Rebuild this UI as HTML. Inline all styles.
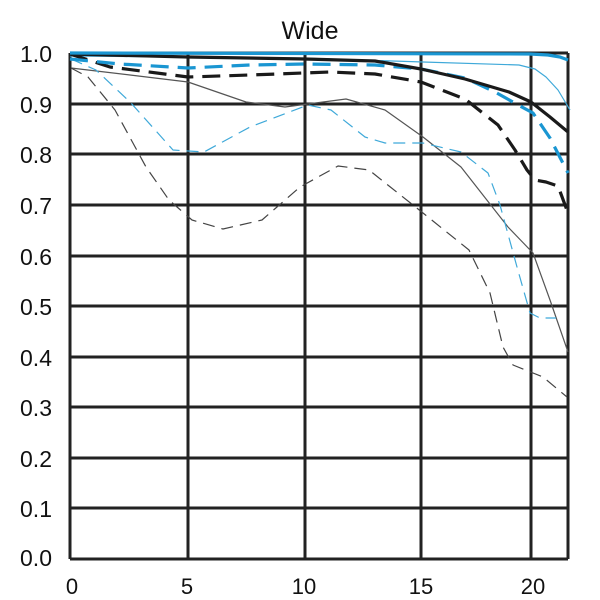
<!DOCTYPE html>
<html><head><meta charset="utf-8"><style>
html,body{margin:0;padding:0;background:#fff;}
svg{display:block;font-family:"Liberation Sans","DejaVu Sans",sans-serif;}
</style></head><body>
<svg width="600" height="600" viewBox="0 0 600 600">
<rect width="600" height="600" fill="#fff"/>
<text x="310" y="39" font-size="25" text-anchor="middle" fill="#111">Wide</text>
<g stroke="#222" stroke-width="3" fill="none">
<line x1="70" y1="53" x2="568" y2="53"/>
<line x1="70" y1="104" x2="568" y2="104"/>
<line x1="70" y1="154" x2="568" y2="154"/>
<line x1="70" y1="205" x2="568" y2="205"/>
<line x1="70" y1="256" x2="568" y2="256"/>
<line x1="70" y1="306" x2="568" y2="306"/>
<line x1="70" y1="357" x2="568" y2="357"/>
<line x1="70" y1="407" x2="568" y2="407"/>
<line x1="70" y1="458" x2="568" y2="458"/>
<line x1="70" y1="508" x2="568" y2="508"/>
<line x1="70" y1="559" x2="568" y2="559"/>
<line x1="70" y1="53" x2="70" y2="559"/>
<line x1="188" y1="53" x2="188" y2="559"/>
<line x1="305" y1="53" x2="305" y2="559"/>
<line x1="421" y1="53" x2="421" y2="559"/>
<line x1="531" y1="53" x2="531" y2="559"/>
<line x1="568" y1="53" x2="568" y2="559"/>
</g>
<g font-size="23" fill="#111" text-anchor="end">
<text x="52" y="62">1.0</text>
<text x="52" y="113">0.9</text>
<text x="52" y="163">0.8</text>
<text x="52" y="214">0.7</text>
<text x="52" y="265">0.6</text>
<text x="52" y="315">0.5</text>
<text x="52" y="366">0.4</text>
<text x="52" y="416">0.3</text>
<text x="52" y="467">0.2</text>
<text x="52" y="517">0.1</text>
<text x="52" y="566">0.0</text>
</g>
<g font-size="22" fill="#111" text-anchor="middle">
<text x="72" y="594">0</text>
<text x="187" y="594">5</text>
<text x="304" y="594">10</text>
<text x="421" y="594">15</text>
<text x="533" y="594">20</text>
</g>
<g fill="none" stroke-linejoin="round" stroke-linecap="butt">
<polyline stroke="#555" stroke-width="1.2" points="71,68 130,75 188,82 246,102 285,107 346,99 385,110 423,137 461,167 508,227 533,253 550,300 568,352"/>
<polyline stroke="#3fa9d9" stroke-width="1.2" stroke-dasharray="12,7" points="71,59 96,70 131,103 173,150 204,152 250,127 308,105 331,110 365,137 385,143 423,143 461,152 488,173 500,205 517,267 530,313 540,318 556,318"/>
<polyline stroke="#444" stroke-width="1.2" stroke-dasharray="12,7" points="71,68 88,77 115,110 146,167 169,200 192,220 223,229 262,220 300,187 338,166 369,170 423,213 469,250 490,293 503,347 513,365 543,377 567,397"/>
<polyline stroke="#3fa9d9" stroke-width="1.2" points="70,56 300,58 423,62 519,65 535,69 546,77 558,90 570,110"/>
<polyline stroke="#1a1a1a" stroke-width="3.2" stroke-dasharray="18,9" points="70,54 110,67 188,77 250,75 330,72 375,74 421,82 465,99 498,125 515,150 527,170 535,180 546,182 558,186 568,213"/>
<polyline stroke="#1a96d2" stroke-width="3.2" stroke-dasharray="18,9" points="70,59 120,64 188,68 250,65 305,64 375,65 421,69 465,78 495,92 520,106 533,113 550,138 568,173"/>
<polyline stroke="#1a1a1a" stroke-width="3.2" points="70,54 188,57 305,59 375,61 421,69 465,79 509,92 531,102 550,117 568,132"/>
<polyline stroke="#1a96d2" stroke-width="3.2" points="70,53 530,54 548,55 560,57 568,60"/>
</g>
</svg>
</body></html>
